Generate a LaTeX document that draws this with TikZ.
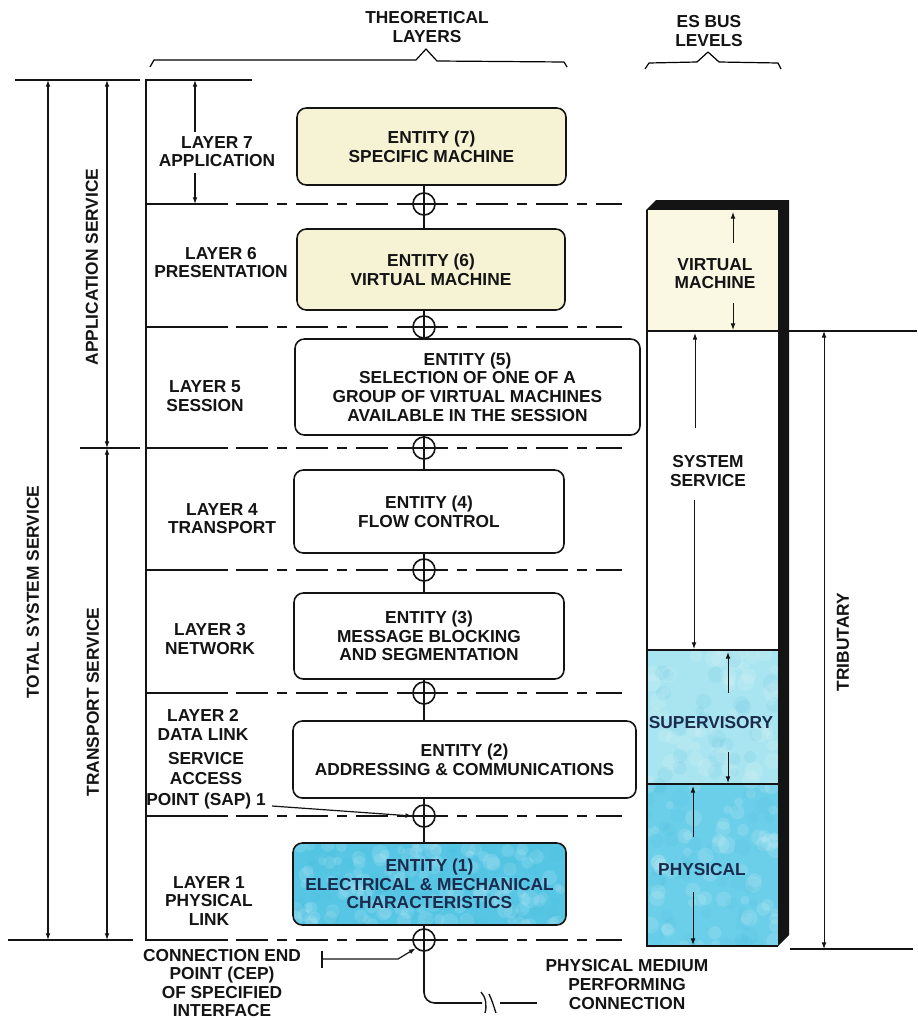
\documentclass[tikz,border=0pt]{standalone}
\usepackage{fontspec}
\setmainfont{Liberation Sans}
\usetikzlibrary{arrows.meta,calc}

\definecolor{ink}{HTML}{141414}
\definecolor{creambox}{HTML}{F6F2D4}
\definecolor{creamlevel}{HTML}{FAF7E2}
\definecolor{cyanbox}{HTML}{56C6E4}
\definecolor{cyanphys}{HTML}{6BCFE9}
\definecolor{cyansup}{HTML}{A9E5F0}
\definecolor{cyandeep}{HTML}{3FB3D6}
\definecolor{navy}{HTML}{1B2B4E}

\tikzset{
  lbl/.style={font=\fontsize{13}{14}\selectfont\bfseries, align=center, inner sep=0pt, text=ink},
  entity/.style={lbl, draw=ink, line width=1.2pt, rounded corners=7pt, fill=white},
  sap/.style={draw=ink, circle, line width=1.2pt, minimum size=16.5pt, inner sep=0pt},
  conn/.style={draw=ink, line width=1.2pt},
  solidpart/.style={draw=ink, line width=1.3pt},
  dashpart/.style={draw=ink, line width=1.3pt, dash pattern=on 24pt off 7pt on 7pt off 7pt},
  dimline/.style={draw=ink, line width=0.9pt},
  dimarrow/.style={dimline, {Latex[length=5pt,width=3.6pt]}-{Latex[length=5pt,width=3.6pt]}},
  uptip/.style={dimline, {Latex[length=5pt,width=3.6pt]}-},
  downtip/.style={dimline, -{Latex[length=5pt,width=3.6pt]}},
  thinarrow/.style={draw=ink, line width=0.7pt},
}

% mottled screen-print texture inside the current clip
\newcommand{\mottle}[4]{% x0, y0, width, height
  \foreach \i in {1,...,110} {
    \fill[white, opacity=0.13] ({#1+#3*rnd},{#2+#4*rnd}) circle ({(4+5*rnd)*0.75pt});
  }
  \foreach \i in {1,...,70} {
    \fill[cyandeep, opacity=0.10] ({#1+#3*rnd},{#2+#4*rnd}) circle ({(4+5*rnd)*0.75pt});
  }
}

\begin{document}
\begin{tikzpicture}[x=0.75pt,y=-0.75pt]
\useasboundingbox (0,0) rectangle (917,1020);
\fill[white] (0,0) rectangle (917,1020);
\pgfmathsetseed{42}

% ---------- headings with braces ----------
\node[lbl] (thhead) at (427,27) {THEORETICAL\\LAYERS};
\node[lbl] (eshead) at (709,31) {ES BUS\\LEVELS};
\draw[line width=0.9pt, line join=round]
  (150,67) -- (154,60) -- (416,60) -- (426,49) -- (437,61) -- (564,62) -- (567,67);
\draw[line width=0.9pt, line join=round]
  (645,69) -- (649,63) -- (697,62) -- (708,52) -- (719,62) -- (778,63) -- (781,69);

% ---------- left dimension lines ----------
\coordinate (topA) at (15,80);   \coordinate (topB) at (140,80);
\coordinate (midA) at (80,448);  \coordinate (midB) at (140,448);
\coordinate (botA) at (8,940);   \coordinate (botB) at (133,940);
\draw[dimline, line width=1.1pt] (topA) -- (topB);
\draw[dimline, line width=1.1pt] (midA) -- (midB);
\draw[dimline, line width=1.1pt] (botA) -- (botB);

\coordinate (tsTop) at (48,80);  \coordinate (tsBot) at (48,940);
\coordinate (asTop) at (107,80); \coordinate (asBot) at (107,448);
\coordinate (trTop) at (107,448); \coordinate (trBot) at (107,940);
\draw[dimarrow] (tsTop) -- (tsBot);
\draw[dimarrow] (asTop) -- (asBot);
\draw[dimarrow] (trTop) -- (trBot);
\node[lbl, rotate=90] (totalsvc) at (33,592) {TOTAL SYSTEM SERVICE};
\node[lbl, rotate=90] (appsvc) at (92,267) {APPLICATION SERVICE};
\node[lbl, rotate=90] (transsvc) at (93,702) {TRANSPORT SERVICE};

% ---------- layer bracket and separators ----------
\draw[solidpart, line width=1.4pt] (252,80) -- (146,80) -- (146,940) -- (228,940);
\foreach \yy in {204,327,448,570,693,816} {
  \draw[solidpart] (146,\yy) -- (228,\yy);
}
\foreach \yy in {204,327,448,570,693,816,940} {
  \draw[dashpart] (236,\yy) -- (622,\yy);
}

% layer 7 extent arrow
\coordinate (l7a) at (195,80);  \coordinate (l7b) at (195,132);
\coordinate (l7c) at (195,173); \coordinate (l7d) at (195,204);
\draw[uptip] (l7a) -- (l7b);
\draw[downtip] (l7c) -- (l7d);

% ---------- layer names ----------
\node[lbl] (n7) at (217,151.5) {LAYER 7\\APPLICATION};
\node[lbl] (n6) at (221,262.5) {LAYER 6\\PRESENTATION};
\node[lbl] (n5) at (205,396) {LAYER 5\\SESSION};
\node[lbl] (n4) at (222,518.5) {LAYER 4\\TRANSPORT};
\node[lbl] (n3) at (210,639) {LAYER 3\\NETWORK};
\node[lbl] (n2) at (203,725) {LAYER 2\\DATA LINK};
\node[lbl, font=\fontsize{13}{15.3}\selectfont\bfseries] (sapl) at (206,780.5) {SERVICE\\ACCESS\\POINT (SAP) 1};
\node[lbl] (n1) at (209,901) {LAYER 1\\PHYSICAL\\LINK};

% ---------- entities ----------
\node[entity, fill=creambox, minimum width=269*0.75pt, minimum height=77*0.75pt] (e7) at (431.5,146.5)
  {ENTITY (7)\\SPECIFIC MACHINE};
\node[entity, fill=creambox, minimum width=268*0.75pt, minimum height=81*0.75pt] (e6) at (431,269.5)
  {ENTITY (6)\\VIRTUAL MACHINE};
\node[entity, minimum width=345*0.75pt, minimum height=96*0.75pt] (e5) at (467.5,387)
  {ENTITY (5)\\SELECTION OF ONE OF A\\GROUP OF VIRTUAL MACHINES\\AVAILABLE IN THE SESSION};
\node[entity, minimum width=270*0.75pt, minimum height=83*0.75pt] (e4) at (429,511.5)
  {ENTITY (4)\\FLOW CONTROL};
\node[entity, minimum width=270*0.75pt, minimum height=86*0.75pt] (e3) at (429,636)
  {ENTITY (3)\\MESSAGE BLOCKING\\AND SEGMENTATION};
\node[entity, minimum width=343*0.75pt, minimum height=77*0.75pt] (e2) at (464.5,759.5)
  {ENTITY (2)\\ADDRESSING \& COMMUNICATIONS};
% screened fill of the physical-layer entity
\begin{scope}
  \clip[rounded corners=7pt] (293,843) rectangle (566,925);
  \fill[cyanbox] (293,843) rectangle (566,925);
  \mottle{293}{843}{273}{82}
\end{scope}
\node[entity, fill=none, text=navy, minimum width=273*0.75pt, minimum height=82*0.75pt] (e1) at (429.5,884)
  {ENTITY (1)\\ELECTRICAL \& MECHANICAL\\CHARACTERISTICS};

% ---------- access points between layers ----------
\node[sap] (k76) at (424,204) {};
\node[sap] (k65) at (424,327) {};
\node[sap] (k54) at (424,448) {};
\node[sap] (k43) at (424,570) {};
\node[sap] (k32) at (424,693) {};
\node[sap] (k21) at (424,816) {};
\node[sap] (k10) at (424,940) {};
\foreach \k in {k76,k65,k54,k43,k32,k21,k10} {
  \draw[conn] ([xshift=-18pt]\k.center) -- ([xshift=18pt]\k.center);
}
\draw[conn] (e7.south -| k76) -- (e6.north -| k76);
\draw[conn] (e6.south -| k65) -- (e5.north -| k65);
\draw[conn] (e5.south -| k54) -- (e4.north -| k54);
\draw[conn] (e4.south -| k43) -- (e3.north -| k43);
\draw[conn] (e3.south -| k32) -- (e2.north -| k32);
\draw[conn] (e2.south -| k21) -- (e1.north -| k21);

% SAP pointer
\coordinate (sapfrom) at (272,806);
\draw[conn, line width=0.9pt, -{Latex[length=5pt,width=3.6pt]}] (sapfrom) -- (k21.west);

% connection end point pointer
\coordinate (cepbar) at (322,959);
\coordinate (cepbend) at (398,959);
\draw[conn, line width=1.1pt] (322,951) -- (322,968);
\draw[conn, line width=0.9pt, -{Latex[length=5pt,width=3.6pt]}] (cepbar) -- (cepbend) -- (k10.225);
\node[lbl, font=\fontsize{13}{13.6}\selectfont\bfseries] (cep) at (222,983) {CONNECTION END\\POINT (CEP)\\OF SPECIFIED\\INTERFACE};

% physical medium line with break mark
\coordinate (medA) at (482,1003);
\coordinate (medB) at (500,1003);
\coordinate (medC) at (537,1003);
\draw[conn, rounded corners=8pt] (e1.south -| k10) -- (424,1003) -- (medA);
\draw[conn] (medB) -- (medC);
\draw[conn, line width=1pt] (481,992) .. controls (486,997) and (487,1006) .. (485,1013);
\draw[conn, line width=1pt] (489,994) .. controls (492,1000) and (494,1007) .. (496,1013);
\node[lbl] (medium) at (627,984.5) {PHYSICAL MEDIUM\\PERFORMING\\CONNECTION};

% ---------- ES bus level column ----------
\fill[ink] (646,210) -- (656,200) -- (789,200) -- (789,935) -- (778,946) -- (778,210) -- cycle;
\fill[creamlevel] (646,210) rectangle (778,331);
\fill[white] (646,331) rectangle (778,650);
\begin{scope}
  \clip (646,650) rectangle (778,946);
  \fill[cyansup] (646,650) rectangle (778,784);
  \fill[cyanphys] (646,784) rectangle (778,946);
  \mottle{646}{650}{132}{296}
\end{scope}
\draw[ink, line width=1.4pt] (647,210) -- (647,946) -- (778,946);
\draw[ink, line width=1pt] (646,331) -- (917,331);
\draw[ink, line width=1pt] (646,650) -- (778,650);
\draw[ink, line width=1pt] (646,784) -- (778,784);

\node[lbl] (vm) at (715,273.5) {VIRTUAL\\MACHINE};
\node[lbl] (ss) at (708,471) {SYSTEM\\SERVICE};
\node[lbl, text=navy] (sup) at (711,723) {SUPERVISORY};
\node[lbl, text=navy] (phy) at (702,870) {PHYSICAL};

\draw[thinarrow, {Latex[length=5pt,width=3.6pt]}-] (733,212) -- (733,243);
\draw[thinarrow, -{Latex[length=5pt,width=3.6pt]}] (733,303) -- (733,330);
\draw[thinarrow, {Latex[length=5pt,width=3.6pt]}-] (695,333) -- (695,428);
\draw[thinarrow, -{Latex[length=5pt,width=3.6pt]}] (694,500) -- (694,649);
\draw[thinarrow, {Latex[length=5pt,width=3.6pt]}-] (728,652) -- (728,693);
\draw[thinarrow, -{Latex[length=5pt,width=3.6pt]}] (728,752) -- (728,783);
\draw[thinarrow, {Latex[length=5pt,width=3.6pt]}-] (693,786) -- (693,837);
\draw[thinarrow, -{Latex[length=5pt,width=3.6pt]}] (693,892) -- (693,945);

% tributary extent
\coordinate (trbTop) at (824,331);
\coordinate (trbBot) at (824,949);
\draw[thinarrow, {Latex[length=5pt,width=3.6pt]}-{Latex[length=5pt,width=3.6pt]}] (trbTop) -- (trbBot);
\draw[ink, line width=1pt] (790,949) -- (913,949);
\node[lbl, rotate=90] (trib) at (843,642) {TRIBUTARY};

\end{tikzpicture}
\end{document}
